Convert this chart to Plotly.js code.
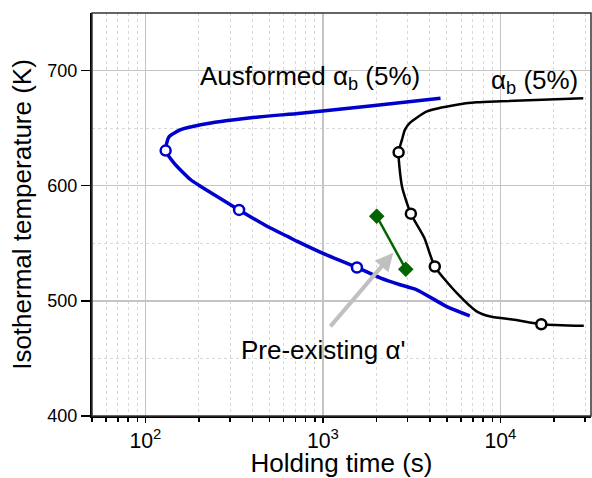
<!DOCTYPE html>
<html>
<head>
<meta charset="utf-8">
<script src="https://cdn.plot.ly/plotly-3.0.1.min.js"></script>
<style>html,body{margin:0;padding:0;background:#fff;}#chart{width:592px;height:478px;}</style>
</head>
<body>
<div id="chart"></div>
<script>
// Ausformed alpha_b (5%) curve (blue)
const ausTime = [4600, 1900, 750, 393, 205, 158, 136, 132, 130, 145, 180, 205, 337, 487, 631, 718, 1008, 1555, 2100, 2720, 3380, 4990, 6720];
const ausTemp = [676, 669.5, 663, 659, 653, 648.7, 642.6, 637.4, 630.5, 619.7, 605.2, 599.4, 579, 564.6, 556, 551.6, 541, 529, 520, 514, 509.6, 495, 487];
const ausMarkTime = [130, 337, 1555];
const ausMarkTemp = [630.5, 579, 529];

// alpha_b (5%) curve (black)
const abTime = [29300, 10100, 7380, 5690, 3860, 3090, 2900, 2790, 2670, 2790, 3130, 3730, 4270, 5690, 7380, 8810, 12050, 17000, 29500];
const abTemp = [676, 673.3, 672.4, 670.4, 664.6, 654.5, 648.7, 640, 629, 599.4, 575.7, 554.5, 529.8, 506.7, 490.7, 486.4, 483.5, 479.7, 478.3];
const abMarkTime = [2670, 3130, 4270, 17000];
const abMarkTemp = [629, 575.7, 529.8, 479.7];

// Pre-existing alpha' (green)
const preTime = [2010, 2930];
const preTemp = [573.5, 527.5];

// Arrow (tail -> head) in data units
const arrowTail = [1084, 476.5];
const arrowHead = [2490, 541.7];

const FONT = 'Liberation Sans, Arial, sans-serif';
const BLUE = '#0000cc';
const GREEN = '#006400';

const traces = [
  {x: ausTime, y: ausTemp, mode: 'lines', line: {color: BLUE, width: 3.5, shape: 'spline', smoothing: 0.6}, hoverinfo: 'skip'},
  {x: abTime, y: abTemp, mode: 'lines', line: {color: 'black', width: 2.5, shape: 'spline', smoothing: 0.6}, hoverinfo: 'skip'},
  {x: preTime, y: preTemp, mode: 'lines+markers', line: {color: GREEN, width: 2.5},
   marker: {symbol: 'diamond', size: 12, color: GREEN}},
  {x: ausMarkTime, y: ausMarkTemp, mode: 'markers',
   marker: {symbol: 'circle', size: 10, color: 'white', line: {color: BLUE, width: 2.5}}},
  {x: abMarkTime, y: abMarkTemp, mode: 'markers',
   marker: {symbol: 'circle', size: 10, color: 'white', line: {color: 'black', width: 2.5}}}
];

const lg = Math.log10;
const layout = {
  width: 592, height: 478,
  margin: {l: 92, r: 1, t: 13, b: 62},
  paper_bgcolor: 'white', plot_bgcolor: 'white',
  showlegend: false,
  font: {family: FONT, color: 'black'},
  xaxis: {
    type: 'log', range: [lg(50), lg(32400)], dtick: 1, exponentformat: 'power',
    showline: true, linecolor: 'black', linewidth: 2,
    ticks: 'outside', ticklen: 5, tickwidth: 1.5, tickcolor: 'black',
    showgrid: true, gridcolor: '#c4c4c4', gridwidth: 1.5, zeroline: false,
    minor: {dtick: 'D1', ticks: 'outside', ticklen: 4, tickwidth: 1.5, tickcolor: 'black',
            showgrid: true, gridcolor: '#d8d8d8', griddash: 'dot', gridwidth: 1},
    tickfont: {family: FONT, size: 17, color: 'black'},
    title: {text: 'Holding time (s)', font: {family: FONT, size: 26, color: 'black'}, standoff: 8}
  },
  yaxis: {
    range: [400, 750], tick0: 400, dtick: 100,
    showline: true, linecolor: 'black', linewidth: 2,
    ticks: 'outside', ticklen: 9, tickwidth: 1.5, tickcolor: 'black',
    showgrid: true, gridcolor: '#c4c4c4', gridwidth: 1.5, zeroline: false,
    minor: {dtick: 50, tick0: 400, ticks: '', showgrid: true, gridcolor: '#d8d8d8', griddash: 'dot', gridwidth: 1},
    tickfont: {family: FONT, size: 18, color: 'black'},
    title: {text: 'Isothermal temperature (K)', font: {family: FONT, size: 26, color: 'black'}, standoff: 8}
  },
  shapes: [
    {type: 'rect', xref: 'paper', yref: 'paper', x0: 0, y0: 0, x1: 1, y1: 1,
     line: {color: '#333', width: 1.5}, layer: 'above'}
  ],
  annotations: [
    {x: 2.295, y: 694, xref: 'x', yref: 'y', xanchor: 'left', yanchor: 'middle', showarrow: false,
     text: 'Ausformed α<sub>b</sub> (5%)', font: {family: FONT, size: 26, color: 'black'}},
    {x: 3.934, y: 690.5, xref: 'x', yref: 'y', xanchor: 'left', yanchor: 'middle', showarrow: false,
     text: 'α<sub>b</sub> (5%)', font: {family: FONT, size: 26, color: 'black'}},
    {x: 2.526, y: 457, xref: 'x', yref: 'y', xanchor: 'left', yanchor: 'middle', showarrow: false,
     text: "Pre-existing α'", font: {family: FONT, size: 26, color: 'black'}},
    {x: lg(arrowHead[0]), y: arrowHead[1], ax: lg(arrowTail[0]), ay: arrowTail[1],
     xref: 'x', yref: 'y', axref: 'x', ayref: 'y', text: '', showarrow: true,
     arrowhead: 2, arrowsize: 0.9, arrowwidth: 4, arrowcolor: '#c0c0c0', standoff: 0}
  ]
};

Plotly.newPlot('chart', traces, layout, {staticPlot: true, displayModeBar: false});
</script>
</body>
</html>
